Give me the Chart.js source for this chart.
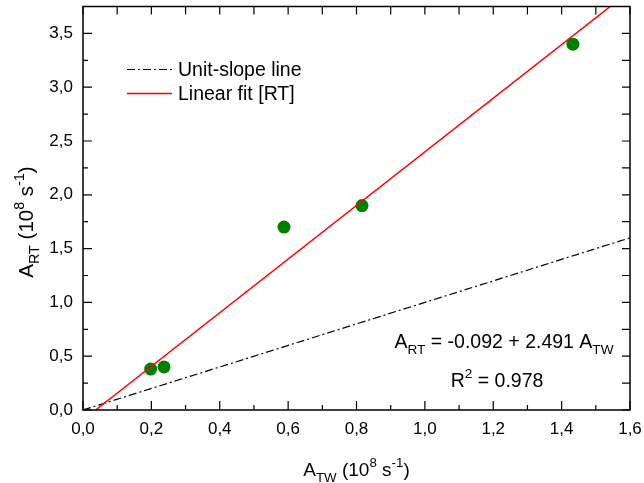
<!DOCTYPE html>
<html>
<head>
<meta charset="utf-8">
<script src="https://cdn.jsdelivr.net/npm/chart.js@4/dist/chart.umd.min.js"></script>
<style>
  html, body { margin: 0; padding: 0; background: #fff; }
  #wrap { width: 644px; height: 483px; }
</style>
</head>
<body>
<div id="wrap"><canvas id="fitChart"></canvas></div>
<script>
// measured points A_TW vs A_RT (10^8 s^-1)
var atwValues = [0.198, 0.237, 0.588, 0.816, 1.433];
var artValues = [0.38, 0.40, 1.70, 1.90, 3.40];

// reference lines
var unitX = [0, 1.6];
var unitY = [0, 1.6];
var fitX = [0.037, 1.6];
var fitY = [0.0, 3.894];

var legendLabels = ['Unit-slope line', 'Linear fit [RT]'];
var xRange = [0, 1.6];
var yRange = [0, 3.75];

var FONT = '"Liberation Sans", Arial, sans-serif';

function toPts(xs, ys) {
  return xs.map(function (x, i) { return { x: x, y: ys[i] }; });
}
function comma(v) { return Number(v).toFixed(1).replace('.', ','); }

// draws text made of parts: [text, 0 normal | -1 sub | 1 sup]
function richWidth(ctx, parts, size) {
  var w = 0;
  parts.forEach(function (p) {
    ctx.font = (p[1] ? size * 0.7 : size) + 'px ' + FONT;
    w += ctx.measureText(p[0]).width;
  });
  return w;
}
function drawRich(ctx, parts, x, y, size) {
  var w = richWidth(ctx, parts, size);
  var cx = x - w / 2;
  ctx.textAlign = 'left';
  ctx.textBaseline = 'alphabetic';
  parts.forEach(function (p) {
    var s = p[1] ? size * 0.7 : size;
    var dy = p[1] === -1 ? size * 0.3 : (p[1] === 1 ? -size * 0.45 : 0);
    ctx.font = s + 'px ' + FONT;
    ctx.fillText(p[0], cx, y + dy);
    cx += ctx.measureText(p[0]).width;
  });
}

var framePlugin = {
  id: 'frame',
  afterDraw: function (chart) {
    var ctx = chart.ctx, a = chart.chartArea;
    var xs = chart.scales.x, ys = chart.scales.y;
    ctx.save();
    ctx.strokeStyle = '#000';
    ctx.lineWidth = 1.5;
    ctx.strokeRect(a.left, a.top, a.right - a.left, a.bottom - a.top);

    // inward ticks, major + minor
    ctx.lineWidth = 1.2;
    ctx.beginPath();
    for (var i = 0; i <= 16; i++) {
      var px = xs.getPixelForValue(i * 0.1);
      var major = i % 2 === 0;
      ctx.moveTo(px, a.bottom); ctx.lineTo(px, a.bottom - (major ? 9 : 5));
      ctx.moveTo(px, a.top); ctx.lineTo(px, a.top + 8);
    }
    for (var j = 0; j <= 15; j++) {
      var py = ys.getPixelForValue(j * 0.25);
      var maj = j % 2 === 0;
      ctx.moveTo(a.left, py); ctx.lineTo(a.left + (maj ? 9 : 5), py);
      ctx.moveTo(a.right, py); ctx.lineTo(a.right - 8, py);
    }
    ctx.stroke();

    // legend
    var ds = chart.data.datasets;
    [ds[1], ds[0]].forEach(function (d, k) {
      var ly = a.top + 63 + k * 24;
      ctx.beginPath();
      ctx.strokeStyle = d.borderColor;
      ctx.lineWidth = d.borderWidth;
      ctx.setLineDash(d.borderDash || []);
      ctx.moveTo(a.left + 44, ly);
      ctx.lineTo(a.left + 89, ly);
      ctx.stroke();
      ctx.setLineDash([]);
      ctx.fillStyle = '#000';
      ctx.font = '19.5px ' + FONT;
      ctx.textAlign = 'left';
      ctx.textBaseline = 'middle';
      ctx.fillText(d.label, a.left + 95, ly + 1);
    });

    // fit result
    ctx.fillStyle = '#000';
    drawRich(ctx, [['A', 0], ['RT', -1], [' = -0.092 + 2.491 A', 0], ['TW', -1]], a.left + 421, a.bottom - 62, 19.5);
    drawRich(ctx, [['R', 0], ['2', 1], [' = 0.978', 0]], a.left + 414, a.bottom - 23, 19.5);

    // axis titles
    drawRich(ctx, [['A', 0], ['TW', -1], [' (10', 0], ['8', 1], [' s', 0], ['-1', 1], [')', 0]], (a.left + a.right) / 2, 476, 19);
    ctx.save();
    ctx.translate(33, 222);
    ctx.rotate(-Math.PI / 2);
    drawRich(ctx, [['A', 0], ['RT', -1], [' (10', 0], ['8', 1], [' s', 0], ['-1', 1], [')', 0]], 0, 0, 20.5);
    ctx.restore();
    ctx.restore();
  }
};

var ctx = document.getElementById('fitChart').getContext('2d');
var fitChart = new Chart(ctx, {
  type: 'scatter',
  data: {
    datasets: [
      {
        type: 'line',
        label: legendLabels[1],
        data: toPts(fitX, fitY),
        borderColor: '#ff0000',
        borderWidth: 1.5,
        pointRadius: 0,
        fill: false
      },
      {
        type: 'line',
        label: legendLabels[0],
        data: toPts(unitX, unitY),
        borderColor: '#000000',
        borderWidth: 1.2,
        borderDash: [8, 3, 2, 3],
        pointRadius: 0,
        fill: false
      },
      {
        label: 'data',
        data: toPts(atwValues, artValues),
        backgroundColor: '#008000',
        borderColor: '#008000',
        pointRadius: 6.5,
        borderWidth: 0
      }
    ]
  },
  options: {
    responsive: true,
    maintainAspectRatio: false,
    animation: false,
    layout: { padding: { top: 6, right: 14, left: 0, bottom: 0 } },
    plugins: { legend: { display: false }, tooltip: { enabled: false } },
    scales: {
      x: {
        type: 'linear',
        min: xRange[0], max: xRange[1],
        grid: { display: false, drawTicks: false },
        border: { display: false },
        ticks: {
          stepSize: 0.2, padding: 9, color: '#000',
          font: { family: FONT, size: 17 },
          callback: comma
        },
        afterFit: function (s) { s.height = 73; s.paddingLeft = 0; s.paddingRight = 0; }
      },
      y: {
        type: 'linear',
        min: yRange[0], max: yRange[1],
        grid: { display: false, drawTicks: false },
        border: { display: false },
        ticks: {
          stepSize: 0.5, includeBounds: false, padding: 10, color: '#000',
          font: { family: FONT, size: 17 },
          callback: comma
        },
        afterFit: function (s) { s.width = 83; s.paddingTop = 0; s.paddingBottom = 0; }
      }
    }
  },
  plugins: [framePlugin]
});
</script>
</body>
</html>
